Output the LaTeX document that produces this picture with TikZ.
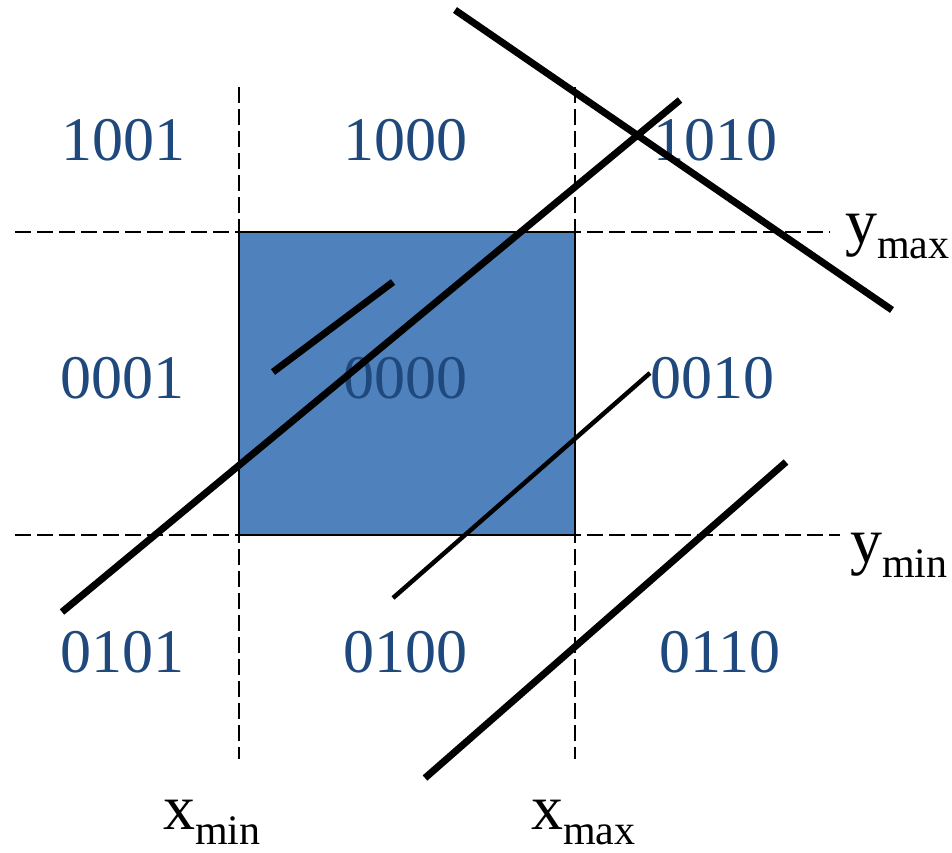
\documentclass[tikz,border=0pt]{standalone}
\usepackage{fontspec}
\setmainfont{Liberation Serif}
\usepackage{xcolor}
\usepackage{tikz}
\usetikzlibrary{positioning}
\definecolor{winblue}{RGB}{79,129,189}
\definecolor{codeblue}{RGB}{31,73,125}
\newcommand{\bound}[2]{#1\raisebox{-15pt}{\fontsize{42}{42}\selectfont #2}}

\begin{document}
\begin{tikzpicture}[x=1pt, y=-1pt,
      region/.style={font=\fontsize{62}{62}\selectfont, text=codeblue, inner sep=0pt, anchor=base},
      limit/.style={font=\fontsize{64}{64}\selectfont, inner sep=0pt, anchor=base west},
      grid/.style={draw=black, line width=1.4pt, dash pattern=on 16pt off 6pt},
      seg/.style={draw=black, line width=7pt},
      thinseg/.style={draw=black, line width=4.5pt}]
    \useasboundingbox (0,0) rectangle (952,852);
    % clipping window
    \draw[fill=winblue, line width=1.4pt] (239,232) rectangle (575,535);
    % boundary lines
    \coordinate (l1) at (239,87);  \coordinate (l2) at (239,759);
    \coordinate (r1) at (575,87);  \coordinate (r2) at (575,759);
    \coordinate (t1) at (15,232);  \coordinate (t2) at (830,232);
    \coordinate (b1) at (15,535);  \coordinate (b2) at (840,535);
    \draw[grid] (l1) -- (l2); \draw[grid] (r1) -- (r2);
    \draw[grid] (t1) -- (t2); \draw[grid] (b1) -- (b2);
    % region codes
    \node[region] (c1001) at (123,160) {1001};
    \node[region] (c1000) at (405,160) {1000};
    \node[region] (c1010) at (715,160) {1010};
    \node[region] (c0001) at (122,398) {0001};
    \node[region] (c0000) at (405,398) {0000};
    \node[region] (c0010) at (712,398) {0010};
    \node[region] (c0101) at (122,672) {0101};
    \node[region] (c0100) at (405,672) {0100};
    \node[region] (c0110) at (720,672) {0110};
    % limits
    \node[limit] (ymax) at (845,243) {\bound{y}{max}};
    \node[limit] (ymin) at (850,562) {\bound{y}{min}};
    \node[limit] (xmin) at (163,829) {\bound{x}{min}};
    \node[limit] (xmax) at (531,829) {\bound{x}{max}};
    % segments
    \coordinate (s1a) at (455,10);  \coordinate (s1b) at (892,310);
    \coordinate (s2a) at (62,612);  \coordinate (s2b) at (680,100);
    \coordinate (s3a) at (273,372); \coordinate (s3b) at (393,282);
    \coordinate (s4a) at (393,598); \coordinate (s4b) at (650,373);
    \coordinate (s5a) at (425,778); \coordinate (s5b) at (786,462);
    \draw[seg] (s1a) -- (s1b);
    \draw[seg] (s2a) -- (s2b);
    \draw[seg] (s3a) -- (s3b);
    \draw[thinseg] (s4a) -- (s4b);
    \draw[seg] (s5a) -- (s5b);
\end{tikzpicture}
\end{document}
